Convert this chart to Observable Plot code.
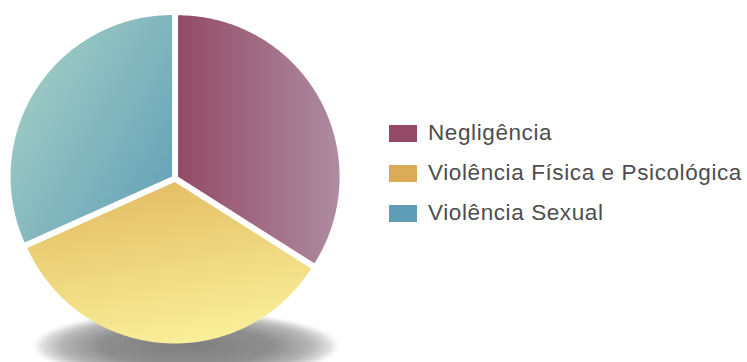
<!DOCTYPE html>
<html>
<head>
<meta charset="utf-8">
<script src="https://cdn.jsdelivr.net/npm/d3@7"></script>
<script src="https://cdn.jsdelivr.net/npm/@observablehq/plot@0.6"></script>
<style>
  html, body { margin: 0; padding: 0; background: #fff; }
  #wrap { position: relative; width: 747px; height: 362px; overflow: hidden; }
  #wrap svg { position: absolute; left: 0; top: 0; }
  #legend { position: absolute; left: 389px; top: 113px; font-family: "Liberation Sans", Arial, Helvetica, sans-serif; font-size: 22.5px; letter-spacing: 0.6px; color: #4d4d4d; }
  .row { display: flex; align-items: center; height: 40px; }
  .sw { width: 28px; height: 17px; margin-right: 11px; flex: none; }
</style>
</head>
<body>
<div id="wrap"></div>
<script>
// Data
const categories = ["Negligência", "Violência Física e Psicológica", "Violência Sexual"];
const values = [34.0, 34.3, 31.7];
const swatchColors = ["#944a66", "#dbac58", "#5f9db6"];

// Gradients per slice (from -> to)
const gradients = [
  {id: "gNeg", x1: 0, y1: 0, x2: 1, y2: 0, from: "#944a66", to: "#ae8ca1"},
  {id: "gFis", x1: 0.2, y1: 0, x2: 0.5, y2: 1, from: "#e2bb62", to: "#f9ef98"},
  {id: "gSex", x1: 0, y1: 0.1, x2: 1, y2: 0.9, from: "#a7d1c6", to: "#62a0b7"}
];

const W = 380, H = 362;
const cx = 174.5, cy = 178, R = 161.5, explode = 3.5;

const arcs = d3.pie().sort(null).startAngle(0).endAngle(2 * Math.PI)(values);
const slices = arcs.map((a, i) => {
  const mid = (a.startAngle + a.endAngle) / 2;
  const ox = cx + explode * Math.sin(mid), oy = cy - explode * Math.cos(mid);
  const n = Math.max(2, Math.ceil((a.endAngle - a.startAngle) / (Math.PI / 360)));
  const pts = [{x: ox, y: oy}];
  for (let k = 0; k <= n; k++) {
    const t = a.startAngle + (a.endAngle - a.startAngle) * k / n;
    pts.push({x: ox + R * Math.sin(t), y: oy - R * Math.cos(t)});
  }
  pts.push({x: ox, y: oy});
  return pts;
});

const plot = Plot.plot({
  width: W,
  height: H,
  margin: 0,
  x: {domain: [0, W], range: [0, W], axis: null},
  y: {domain: [0, H], range: [0, H], axis: null},
  marks: slices.map((pts, i) =>
    Plot.line(pts, {x: "x", y: "y", fill: `url(#${gradients[i].id})`, stroke: "none", curve: "linear"})
  )
});

const svg = d3.select(plot);
const defs = svg.insert("defs", ":first-child");
gradients.forEach(g => {
  const lg = defs.append("linearGradient").attr("id", g.id)
    .attr("x1", g.x1).attr("y1", g.y1).attr("x2", g.x2).attr("y2", g.y2);
  lg.append("stop").attr("offset", 0).attr("stop-color", g.from);
  lg.append("stop").attr("offset", 1).attr("stop-color", g.to);
});
const rg = defs.append("radialGradient").attr("id", "shadowGrad");
[[0, "#7e7e7e", 1], [0.55, "#8e8e8e", 1], [0.8, "#b5b5b5", 1], [0.93, "#e2e2e2", 1], [1, "#ffffff", 0]]
  .forEach(([o, c, op]) => rg.append("stop").attr("offset", o).attr("stop-color", c).attr("stop-opacity", op));
const f = defs.append("filter").attr("id", "blur").attr("x", "-20%").attr("y", "-50%").attr("width", "140%").attr("height", "200%");
f.append("feGaussianBlur").attr("stdDeviation", 1.5);
const sx = plot.scale("x"), sy = plot.scale("y");
svg.insert("ellipse", "g[aria-label]")
  .attr("cx", sx.apply(186)).attr("cy", sy.apply(346))
  .attr("rx", 156).attr("ry", 35)
  .attr("fill", "url(#shadowGrad)")
  .attr("filter", "url(#blur)");

const wrap = document.getElementById("wrap");
wrap.appendChild(plot);

const legend = document.createElement("div");
legend.id = "legend";
categories.forEach((c, i) => {
  const row = document.createElement("div");
  row.className = "row";
  const sw = document.createElement("div");
  sw.className = "sw";
  sw.style.background = swatchColors[i];
  const t = document.createElement("span");
  t.textContent = c;
  row.appendChild(sw);
  row.appendChild(t);
  legend.appendChild(row);
});
wrap.appendChild(legend);
</script>
</body>
</html>
